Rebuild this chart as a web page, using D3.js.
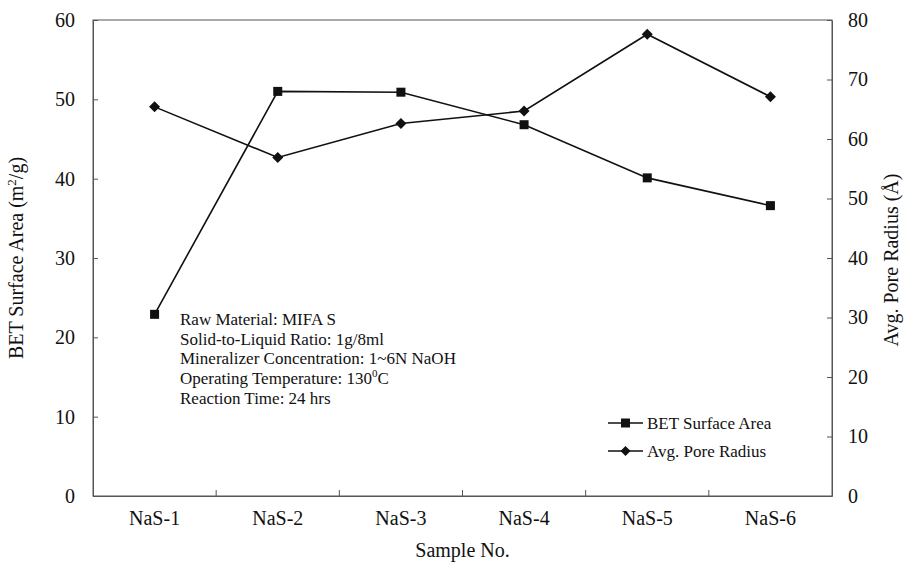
<!DOCTYPE html>
<html>
<head>
<meta charset="utf-8">
<script src="https://cdn.jsdelivr.net/npm/d3@7"></script>
<style>
  body { margin: 0; background: #fff; }
  svg text { font-family: "Liberation Serif", "Times New Roman", serif !important; fill: #111; }
</style>
</head>
<body>
<div id="chart"></div>
<script>
const samples = ["NaS-1", "NaS-2", "NaS-3", "NaS-4", "NaS-5", "NaS-6"];
const betArea = [22.9, 51.0, 50.9, 46.8, 40.1, 36.6];
const poreRadius = [65.4, 56.9, 62.6, 64.7, 77.6, 67.1];
const leftTicks = [0, 10, 20, 30, 40, 50, 60];
const rightTicks = [0, 10, 20, 30, 40, 50, 60, 70, 80];
const notes = [
  "Raw Material: MIFA S",
  "Solid-to-Liquid Ratio: 1g/8ml",
  "Mineralizer Concentration: 1~6N NaOH",
  "Operating Temperature: 130",
  "Reaction Time: 24 hrs"
];

const serif = '"Liberation Serif", "Times New Roman", serif';

// set the dimensions and margins of the graph
const margin = {top: 20, right: 78, bottom: 72, left: 93},
    width = 910 - margin.left - margin.right,
    height = 568 - margin.top - margin.bottom;

const svg = d3.select("#chart")
  .append("svg")
    .attr("width", 910)
    .attr("height", 568)
  .append("g")
    .attr("transform", "translate(" + margin.left + "," + margin.top + ")");

const x = d3.scaleBand().domain(samples).range([0, width]);
const yL = d3.scaleLinear().domain([0, 60]).range([height, 0]);
const yR = d3.scaleLinear().domain([0, 80]).range([height, 0]);

// frame
svg.append("rect")
  .attr("width", width).attr("height", height)
  .attr("fill", "none").attr("stroke", "#555").attr("stroke-width", 1);

// left axis
const gL = svg.append("g")
  .call(d3.axisLeft(yL).tickValues(leftTicks).tickSizeInner(-5).tickSizeOuter(0).tickPadding(18));
gL.attr("font-family", serif).attr("font-size", 20);
gL.select(".domain").attr("stroke", "#555");
gL.selectAll("line").attr("stroke", "#555");

// right axis
const gR = svg.append("g")
  .attr("transform", `translate(${width},0)`)
  .call(d3.axisRight(yR).tickValues(rightTicks).tickSizeInner(-5).tickSizeOuter(0).tickPadding(16));
gR.attr("font-family", serif).attr("font-size", 20);
gR.select(".domain").attr("stroke", "#555");
gR.selectAll("line").attr("stroke", "#555");

// bottom axis: labels at centers, ticks at category boundaries
const gB = svg.append("g")
  .attr("transform", `translate(0,${height})`)
  .call(d3.axisBottom(x).tickSize(0).tickPadding(15));
gB.attr("font-family", serif).attr("font-size", 20);
gB.select(".domain").attr("stroke", "#555");
svg.append("g").selectAll("line")
  .data(samples.slice(1))
  .join("line")
    .attr("x1", d => x(d)).attr("x2", d => x(d))
    .attr("y1", height).attr("y2", height - 6)
    .attr("stroke", "#555");

// axis titles
svg.append("text")
  .attr("transform", `translate(${-70},${height / 2}) rotate(-90)`)
  .attr("text-anchor", "middle")
  .style("font-size", "20px")
  .html('BET Surface Area (m<tspan dy="-7" font-size="13px">2</tspan><tspan dy="7">/g)</tspan>');

svg.append("text")
  .attr("transform", `translate(${width + 66},${height / 2 + 2}) rotate(-90)`)
  .attr("text-anchor", "middle")
  .style("font-size", "20px")
  .text("Avg. Pore Radius (Å)");

svg.append("text")
  .attr("x", width / 2).attr("y", height + 61)
  .attr("text-anchor", "middle")
  .style("font-size", "20px")
  .text("Sample No.");

const cx = d => x(d) + x.bandwidth() / 2;

// BET line
const betData = samples.map((s, i) => ({s: s, v: betArea[i]}));
svg.append("path")
  .datum(betData)
  .attr("fill", "none").attr("stroke", "#111").attr("stroke-width", 1.6)
  .attr("d", d3.line().x(d => cx(d.s)).y(d => yL(d.v)));
svg.selectAll(".sq")
  .data(betData)
  .join("rect")
    .attr("x", d => cx(d.s) - 4.5).attr("y", d => yL(d.v) - 4.5)
    .attr("width", 9).attr("height", 9)
    .attr("fill", "#111");

// pore radius line
const poreData = samples.map((s, i) => ({s: s, v: poreRadius[i]}));
svg.append("path")
  .datum(poreData)
  .attr("fill", "none").attr("stroke", "#111").attr("stroke-width", 1.6)
  .attr("d", d3.line().x(d => cx(d.s)).y(d => yR(d.v)));
svg.selectAll(".dm")
  .data(poreData)
  .join("path")
    .attr("transform", d => `translate(${cx(d.s)},${yR(d.v)})`)
    .attr("d", "M0,-5.5L5.5,0L0,5.5L-5.5,0Z")
    .attr("fill", "#111");

// condition notes
const notesG = svg.append("g").attr("transform", "translate(87,305)");
notes.forEach((t, i) => {
  const tx = notesG.append("text")
    .attr("y", i * 19.7)
    .style("font-size", "17px")
    .text(t);
  if (i === 3) {
    tx.append("tspan").attr("dy", -7).style("font-size", "11px").text("0");
    tx.append("tspan").attr("dy", 7).text("C");
  }
});

// legend
const legend = svg.append("g").attr("transform", "translate(515,403)");
legend.append("line").attr("x1", 0).attr("x2", 35).attr("stroke", "#111").attr("stroke-width", 1.6);
legend.append("rect").attr("x", 13).attr("y", -4.5).attr("width", 9).attr("height", 9).attr("fill", "#111");
legend.append("text").attr("x", 39).attr("y", 6).style("font-size", "17px").text("BET Surface Area");
legend.append("line").attr("x1", 0).attr("x2", 35).attr("y1", 28).attr("y2", 28).attr("stroke", "#111").attr("stroke-width", 1.6);
legend.append("path").attr("transform", "translate(17.5,28)").attr("d", "M0,-5L5,0L0,5L-5,0Z").attr("fill", "#111");
legend.append("text").attr("x", 39).attr("y", 34).style("font-size", "17px").text("Avg. Pore Radius");
</script>
</body>
</html>
